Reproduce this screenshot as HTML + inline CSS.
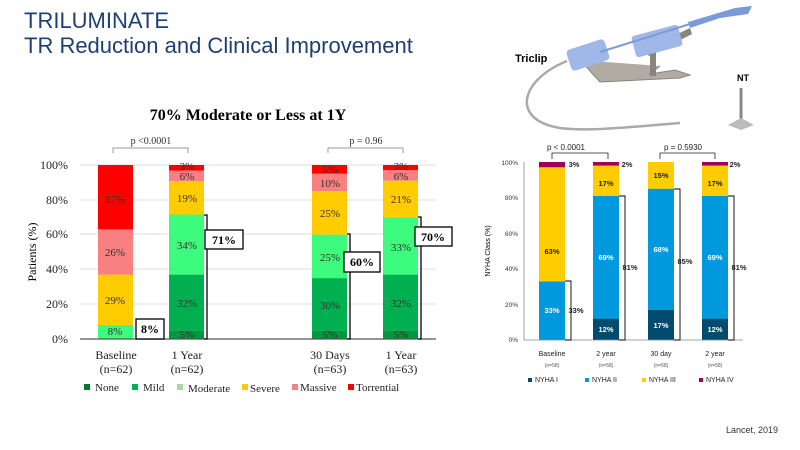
<!DOCTYPE html>
<html><head><meta charset="utf-8"><style>
body{margin:0;background:#fff;}
svg{display:block;}
</style></head><body>
<svg width="800" height="450" viewBox="0 0 800 450" xmlns="http://www.w3.org/2000/svg">
<rect width="800" height="450" fill="#fff"/>
<text x="24" y="28" font-family="Liberation Sans, sans-serif" font-size="22" fill="#1f3f73">TRILUMINATE</text>
<text x="24" y="53" font-family="Liberation Sans, sans-serif" font-size="22" fill="#1f3f73">TR Reduction and Clinical Improvement</text>

<!-- Left chart -->
<g font-family="Liberation Serif, serif">
<text x="248" y="120" font-size="16" font-weight="bold" text-anchor="middle">70% Moderate or Less at 1Y</text>
<text x="151" y="144" font-size="10" text-anchor="middle" fill="#333">p &lt;0.0001</text>
<path d="M113 153 V148 H188 V153" fill="none" stroke="#999"/>
<text x="366" y="144" font-size="10" text-anchor="middle" fill="#333">p = 0.96</text>
<path d="M328 153 V148 H403 V153" fill="none" stroke="#999"/>
<g stroke="#ddd" stroke-width="1">
<line x1="80" y1="165" x2="436" y2="165"/><line x1="80" y1="200" x2="436" y2="200"/>
<line x1="80" y1="234" x2="436" y2="234"/><line x1="80" y1="269" x2="436" y2="269"/>
<line x1="80" y1="304" x2="436" y2="304"/>
</g>
<g font-size="12" text-anchor="end" fill="#222">
<text x="68" y="169">100%</text><text x="68" y="204">80%</text><text x="68" y="238">60%</text>
<text x="68" y="273">40%</text><text x="68" y="308">20%</text><text x="68" y="343">0%</text>
</g>
<text transform="translate(36,252) rotate(-90)" font-size="12" text-anchor="middle">Patients (%)</text>
<!-- Baseline -->
<rect x="98" y="325" width="35" height="14" fill="#3dfb7c"/>
<rect x="98" y="274.6" width="35" height="50.5" fill="#ffcc00"/>
<rect x="98" y="229.4" width="35" height="45.2" fill="#f88080"/>
<rect x="98" y="165" width="35" height="64.4" fill="#ff0000"/>
<!-- 1Y n=62 -->
<rect x="169" y="330.3" width="35" height="8.7" fill="#00983f"/>
<rect x="169" y="274.6" width="35" height="55.7" fill="#00b050"/>
<rect x="169" y="214.5" width="35" height="60.1" fill="#3dfb7c"/>
<rect x="169" y="181" width="35" height="33.5" fill="#ffcc00"/>
<rect x="169" y="170.5" width="35" height="10.5" fill="#f88080"/>
<rect x="169" y="165" width="35" height="5.5" fill="#ff0000"/>
<!-- 30 days -->
<rect x="312" y="330.3" width="35" height="8.7" fill="#00983f"/>
<rect x="312" y="278.1" width="35" height="52.2" fill="#00b050"/>
<rect x="312" y="234.6" width="35" height="43.5" fill="#3dfb7c"/>
<rect x="312" y="191.1" width="35" height="43.5" fill="#ffcc00"/>
<rect x="312" y="173.7" width="35" height="17.4" fill="#f88080"/>
<rect x="312" y="165" width="35" height="8.7" fill="#ff0000"/>
<!-- 1Y n=63 -->
<rect x="383" y="330.3" width="35" height="8.7" fill="#00983f"/>
<rect x="383" y="274.6" width="35" height="55.7" fill="#00b050"/>
<rect x="383" y="217.2" width="35" height="57.4" fill="#3dfb7c"/>
<rect x="383" y="180.7" width="35" height="36.5" fill="#ffcc00"/>
<rect x="383" y="170.2" width="35" height="10.5" fill="#f88080"/>
<rect x="383" y="165" width="35" height="5.2" fill="#ff0000"/>
<line x1="80" y1="339" x2="436" y2="339" stroke="#555" stroke-width="1.2"/>
<g font-size="11" text-anchor="middle" fill="#333">
<text x="115" y="203">37%</text><text x="115" y="256">26%</text><text x="115" y="304">29%</text><text x="115" y="335">8%</text>
<text x="187" y="170">3%</text><text x="187" y="180">6%</text><text x="187" y="202">19%</text><text x="187" y="249">34%</text><text x="187" y="307">32%</text><text x="187" y="338">5%</text>
<text x="330" y="173">5%</text><text x="330" y="187">10%</text><text x="330" y="217">25%</text><text x="330" y="261">25%</text><text x="330" y="309">30%</text><text x="330" y="338">5%</text>
<text x="401" y="170">3%</text><text x="401" y="180">6%</text><text x="401" y="203">21%</text><text x="401" y="251">33%</text><text x="401" y="307">32%</text><text x="401" y="338">5%</text>
</g>
<g fill="none" stroke="#000" stroke-width="1.3">
<path d="M204 215 H207 V339 H204"/><path d="M347 234 H350 V339 H347"/><path d="M418 217 H421 V339 H418"/>
</g>
<g font-size="12" font-weight="bold" text-anchor="middle">
<rect x="136" y="319" width="28" height="20" fill="#fff" stroke="#000" stroke-width="1.3"/><text x="150" y="333">8%</text>
<rect x="205" y="230" width="38" height="19" fill="#fff" stroke="#000" stroke-width="1.3"/><text x="224" y="244">71%</text>
<rect x="344" y="252" width="36" height="20" fill="#fff" stroke="#000" stroke-width="1.3"/><text x="362" y="266">60%</text>
<rect x="415" y="227" width="37" height="19" fill="#fff" stroke="#000" stroke-width="1.3"/><text x="433" y="241">70%</text>
</g>
<g font-size="12" text-anchor="middle" fill="#222">
<text x="116" y="359">Baseline</text><text x="116" y="373">(n=62)</text>
<text x="187" y="359">1 Year</text><text x="187" y="373">(n=62)</text>
<text x="330" y="359">30 Days</text><text x="330" y="373">(n=63)</text>
<text x="401" y="359">1 Year</text><text x="401" y="373">(n=63)</text>
</g>
<g font-size="11" fill="#222">
<rect x="84" y="384" width="6" height="6" fill="#007a2e"/><text x="95" y="391">None</text>
<rect x="132" y="384" width="6" height="6" fill="#00b050"/><text x="143" y="391">Mild</text>
<rect x="177" y="384" width="6" height="6" fill="#a8d8a0"/><text x="188" y="392">Moderate</text>
<rect x="242" y="384" width="6" height="6" fill="#ffcc00"/><text x="250" y="392">Severe</text>
<rect x="292" y="384" width="6" height="6" fill="#f88080"/><text x="300" y="391">Massive</text>
<rect x="348" y="384" width="6" height="6" fill="#ff0000"/><text x="356" y="391">Torrential</text>
</g>
</g>

<!-- Device illustration -->
<g>
<path d="M567 61 C520 80 510 120 560 128 C590 132 640 126 680 123" fill="none" stroke="#aaa" stroke-width="2.5"/>
<path d="M580 60 L600 82 L680 78 L690 75 L675 70 L650 74 L660 66" fill="#b0aca4" stroke="#8a857c" stroke-width="1"/>
<rect x="650" y="38" width="6" height="38" fill="#8a857c"/>
<path d="M640 52 L690 28 L692 34 L650 56 Z" fill="#8a857c"/>
<rect x="568" y="44" width="40" height="22" rx="4" fill="#9fb8e8" transform="rotate(-18 588 55)"/>
<rect x="633" y="30" width="48" height="22" rx="3" fill="#9fb8e8" transform="rotate(-15 657 41)"/>
<line x1="600" y1="52" x2="690" y2="24" stroke="#7c9ad8" stroke-width="2"/>
<path d="M688 22 L735 8 L752 6 L748 14 L720 18 L690 28 Z" fill="#7c9ad8"/>
<line x1="741" y1="88" x2="741" y2="125" stroke="#888" stroke-width="3"/>
<path d="M728 125 L741 118 L754 125 L741 130 Z" fill="#bbb"/>
</g>
<text x="515" y="62" font-family="Liberation Sans, sans-serif" font-size="11" font-weight="bold">Triclip</text>
<text x="737" y="81" font-family="Liberation Sans, sans-serif" font-size="9" font-weight="bold">NT</text>

<!-- Right chart -->
<g font-family="Liberation Sans, sans-serif">
<g font-size="8" text-anchor="middle" fill="#222">
<text x="566" y="150">p &lt; 0.0001</text><text x="683" y="150">p = 0.5930</text>
</g>
<path d="M552 159 V153 H608 V159" fill="none" stroke="#222" stroke-width="0.8"/>
<path d="M660 159 V153 H715 V159" fill="none" stroke="#222" stroke-width="0.8"/>
<line x1="524" y1="162" x2="524" y2="340" stroke="#888" stroke-width="0.8"/>
<g font-size="6.5" text-anchor="end" fill="#333">
<text x="518" y="165">100%</text><text x="518" y="200">80%</text><text x="518" y="236">60%</text>
<text x="518" y="271">40%</text><text x="518" y="307">20%</text><text x="518" y="342">0%</text>
</g>
<text transform="translate(490,251) rotate(-90)" font-size="7" text-anchor="middle">NYHA Class (%)</text>
<!-- bars -->
<rect x="539" y="281.3" width="26" height="58.7" fill="#0099dd"/>
<rect x="539" y="167.3" width="26" height="114" fill="#ffcc00"/>
<rect x="539" y="162" width="26" height="5.3" fill="#a0005a"/>
<rect x="593" y="318.6" width="26" height="21.4" fill="#004b6e"/>
<rect x="593" y="195.8" width="26" height="122.8" fill="#0099dd"/>
<rect x="593" y="165.6" width="26" height="30.2" fill="#ffcc00"/>
<rect x="593" y="162" width="26" height="3.6" fill="#a0005a"/>
<rect x="648" y="309.7" width="26" height="30.3" fill="#004b6e"/>
<rect x="648" y="188.7" width="26" height="121" fill="#0099dd"/>
<rect x="648" y="162" width="26" height="26.7" fill="#ffcc00"/>
<rect x="702" y="318.6" width="26" height="21.4" fill="#004b6e"/>
<rect x="702" y="195.8" width="26" height="122.8" fill="#0099dd"/>
<rect x="702" y="165.6" width="26" height="30.2" fill="#ffcc00"/>
<rect x="702" y="162" width="26" height="3.6" fill="#a0005a"/>
<line x1="524" y1="340" x2="743" y2="340" stroke="#888" stroke-width="0.8"/>
<g fill="none" stroke="#000" stroke-width="0.9">
<path d="M565 281 H571 V340 H565"/><path d="M619 196 H625 V340 H619"/>
<path d="M674 189 H680 V340 H674"/><path d="M728 196 H734 V340 H728"/>
</g>
<g font-size="7.5" font-weight="bold" text-anchor="middle">
<text x="552" y="254" fill="#222">63%</text>
<text x="552" y="313" fill="#fff">33%</text>
<text x="606" y="186" fill="#222">17%</text><text x="606" y="260" fill="#fff">69%</text><text x="606" y="332" fill="#fff">12%</text>
<text x="661" y="178" fill="#222">15%</text><text x="661" y="252" fill="#fff">68%</text><text x="661" y="328" fill="#fff">17%</text>
<text x="715" y="186" fill="#222">17%</text><text x="715" y="260" fill="#fff">69%</text><text x="715" y="332" fill="#fff">12%</text>
<text x="574" y="167" fill="#222">3%</text><text x="627" y="167" fill="#222">2%</text><text x="735" y="167" fill="#222">2%</text>
<text x="576" y="313" fill="#222">33%</text><text x="630" y="270" fill="#222">81%</text>
<text x="685" y="264" fill="#222">85%</text><text x="739" y="270" fill="#222">81%</text>
</g>
<g font-size="7" text-anchor="middle" fill="#222">
<text x="552" y="356">Baseline</text><text x="606" y="356">2 year</text><text x="661" y="356">30 day</text><text x="715" y="356">2 year</text>
</g>
<g font-size="5" text-anchor="middle" fill="#555">
<text x="552" y="367">(n=58)</text><text x="606" y="367">(n=58)</text><text x="661" y="367">(n=58)</text><text x="715" y="367">(n=58)</text>
</g>
<g font-size="7" fill="#222">
<rect x="528" y="378" width="4" height="4" fill="#004b6e"/><text x="535" y="382">NYHA I</text>
<rect x="585" y="378" width="4" height="4" fill="#0099dd"/><text x="592" y="382">NYHA II</text>
<rect x="642" y="378" width="4" height="4" fill="#ffcc00"/><text x="649" y="382">NYHA III</text>
<rect x="699" y="378" width="4" height="4" fill="#a0005a"/><text x="706" y="382">NYHA IV</text>
</g>
<text x="778" y="433" font-size="9" text-anchor="end" fill="#333">Lancet, 2019</text>
</g>
</svg>
</body></html>
